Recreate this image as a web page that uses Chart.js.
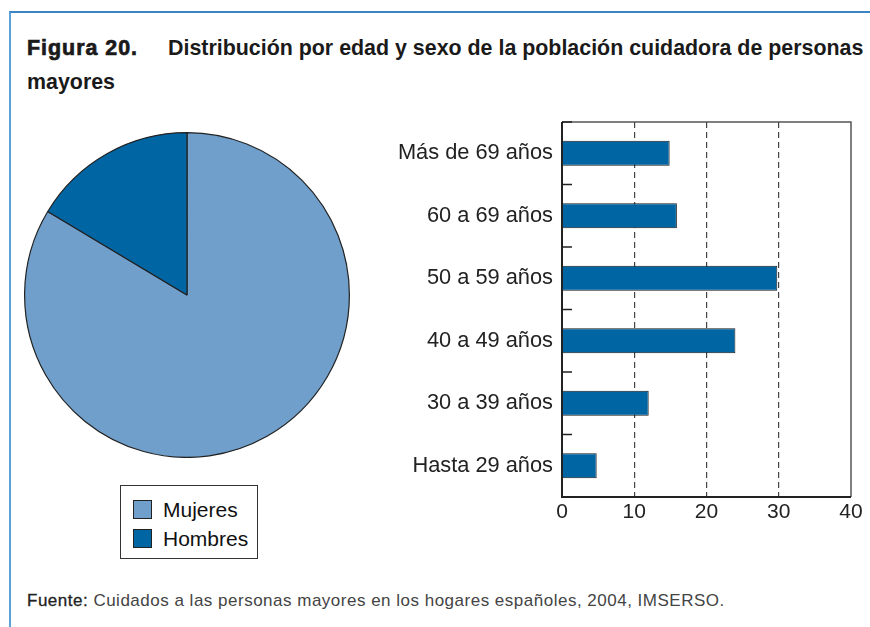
<!DOCTYPE html>
<html>
<head>
<meta charset="utf-8">
<script src="https://cdn.jsdelivr.net/npm/chart.js@4/dist/chart.umd.min.js"></script>
<style>
  body { margin: 0; width: 870px; height: 627px; background: #fff; overflow: hidden; position: relative;
         font-family: 'Liberation Sans', Arial, sans-serif; }
  #frame { position: absolute; left: 9px; top: 11px; width: 900px; height: 700px;
           border-top: 2px solid #3a86c4; border-left: 2px solid #5aa2d5; }
  #title { position: absolute; left: 27px; top: 31px; font-weight: bold; font-size: 21.4px; line-height: 34px;
           color: #1a1a1a; white-space: nowrap; }
  #title .num { display: inline-block; width: 141px; letter-spacing: 1px; -webkit-text-stroke: 0.7px #1a1a1a; }
  #pie { position: absolute; left: 24px; top: 132px; }
  #bars { position: absolute; left: 380px; top: 100px; }
  #legend { position: absolute; left: 120px; top: 485px; width: 136px; height: 72px; border: 1px solid #333; }
  #legend .item { position: absolute; left: 12px; height: 19px; white-space: nowrap; }
  #legend .box { position: absolute; left: 0; top: 0; width: 17px; height: 17px; border: 1px solid #222; }
  #legend .txt { position: absolute; left: 30px; top: 0; font-size: 21px; line-height: 19px; color: #111; }
  #source { position: absolute; left: 27px; top: 591px; font-size: 17px; line-height: 20px; color: #444;
            letter-spacing: 0.5px; white-space: nowrap; }
  #source b { font-weight: normal; color: #222; -webkit-text-stroke: 0.3px #222; }
</style>
</head>
<body>
<div id="frame"></div>
<div id="title"><span class="num">Figura 20.</span>Distribución por edad y sexo de la población cuidadora de personas<br>mayores</div>
<canvas id="pie" width="326" height="326"></canvas>
<div id="legend"></div>
<canvas id="bars" width="490" height="440"></canvas>
<div id="source"><b>Fuente:</b> Cuidados a las personas mayores en los hogares españoles, 2004, IMSERSO.</div>
<script>
const sexLabels = ['Mujeres', 'Hombres'];
const sexShares = [83.6, 16.4];
const sexColors = ['#6f9fca', '#0065a3'];

const ageGroups = ['Más de 69 años', '60 a 69 años', '50 a 59 años', '40 a 49 años', '30 a 39 años', 'Hasta 29 años'];
const ageShares = [14.9, 15.9, 29.8, 24.0, 12.0, 4.8];
const xTicks = [0, 10, 20, 30, 40];

Chart.defaults.font.family = "'Liberation Sans', Arial, sans-serif";
Chart.defaults.color = '#222';

new Chart(document.getElementById('pie'), {
  type: 'pie',
  data: {
    labels: sexLabels,
    datasets: [{ data: sexShares, backgroundColor: sexColors, borderColor: '#222', borderWidth: 1.2 }]
  },
  options: {
    responsive: false,
    animation: false,
    plugins: { legend: { display: false }, tooltip: { enabled: false } }
  }
});

// legend under the pie
const legend = document.getElementById('legend');
sexLabels.forEach((label, i) => {
  legend.insertAdjacentHTML('beforeend',
    `<div class="item" style="top:${14 + i * 29}px">
       <div class="box" style="background:${sexColors[i]}"></div>
       <div class="txt">${label}</div>
     </div>`);
});

// plot frame + short ticks between the categories
const frameAndTicks = {
  id: 'frameAndTicks',
  afterDatasetsDraw(chart) {
    const { ctx, chartArea: a, scales: { y } } = chart;
    ctx.save();
    ctx.strokeStyle = '#555';
    ctx.lineWidth = 1.5;
    ctx.beginPath();
    ctx.moveTo(a.left, a.top); ctx.lineTo(a.right, a.top); ctx.lineTo(a.right, a.bottom);
    ctx.stroke();
    ctx.strokeStyle = '#222';
    ctx.lineWidth = 2;
    ctx.beginPath();
    ctx.moveTo(a.left, a.top); ctx.lineTo(a.left, a.bottom); ctx.lineTo(a.right, a.bottom);
    ctx.stroke();
    ctx.lineWidth = 1.5;
    ctx.beginPath();
    for (let i = 0; i <= ageGroups.length; i++) {
      const py = y.getPixelForValue(i - 0.5);
      ctx.moveTo(a.left, py);
      ctx.lineTo(a.left + 10, py);
    }
    ctx.stroke();
    ctx.restore();
  }
};

new Chart(document.getElementById('bars'), {
  type: 'bar',
  data: {
    labels: ageGroups,
    datasets: [{
      data: ageShares,
      backgroundColor: '#0065a3',
      borderColor: '#1a1a1a',
      borderWidth: 1,
      categoryPercentage: 1,
      barPercentage: 0.4
    }]
  },
  options: {
    indexAxis: 'y',
    responsive: false,
    animation: false,
    layout: { padding: { top: 17, right: 19, left: 0, bottom: 0 } },
    plugins: { legend: { display: false }, tooltip: { enabled: false } },
    scales: {
      x: {
        min: 0,
        max: 40,
        afterBuildTicks: s => { s.ticks = xTicks.map(v => ({ value: v })); },
        afterFit: s => { s.height = 43; },
        ticks: { font: { size: 21 }, color: '#222', padding: 3, maxRotation: 0 },
        grid: {
          drawTicks: false,
          lineWidth: 1.2,
          color: c => (c.tick && (c.tick.value === 0 || c.tick.value === 40)) ? 'rgba(0,0,0,0)' : '#444'
        },
        border: { display: false, dash: [6, 4] }
      },
      y: {
        afterFit: s => { s.width = 182; },
        ticks: { font: { size: 21.8 }, color: '#222', padding: 9 },
        grid: { display: false, drawTicks: false },
        border: { display: false }
      }
    }
  },
  plugins: [frameAndTicks]
});
</script>
</body>
</html>
